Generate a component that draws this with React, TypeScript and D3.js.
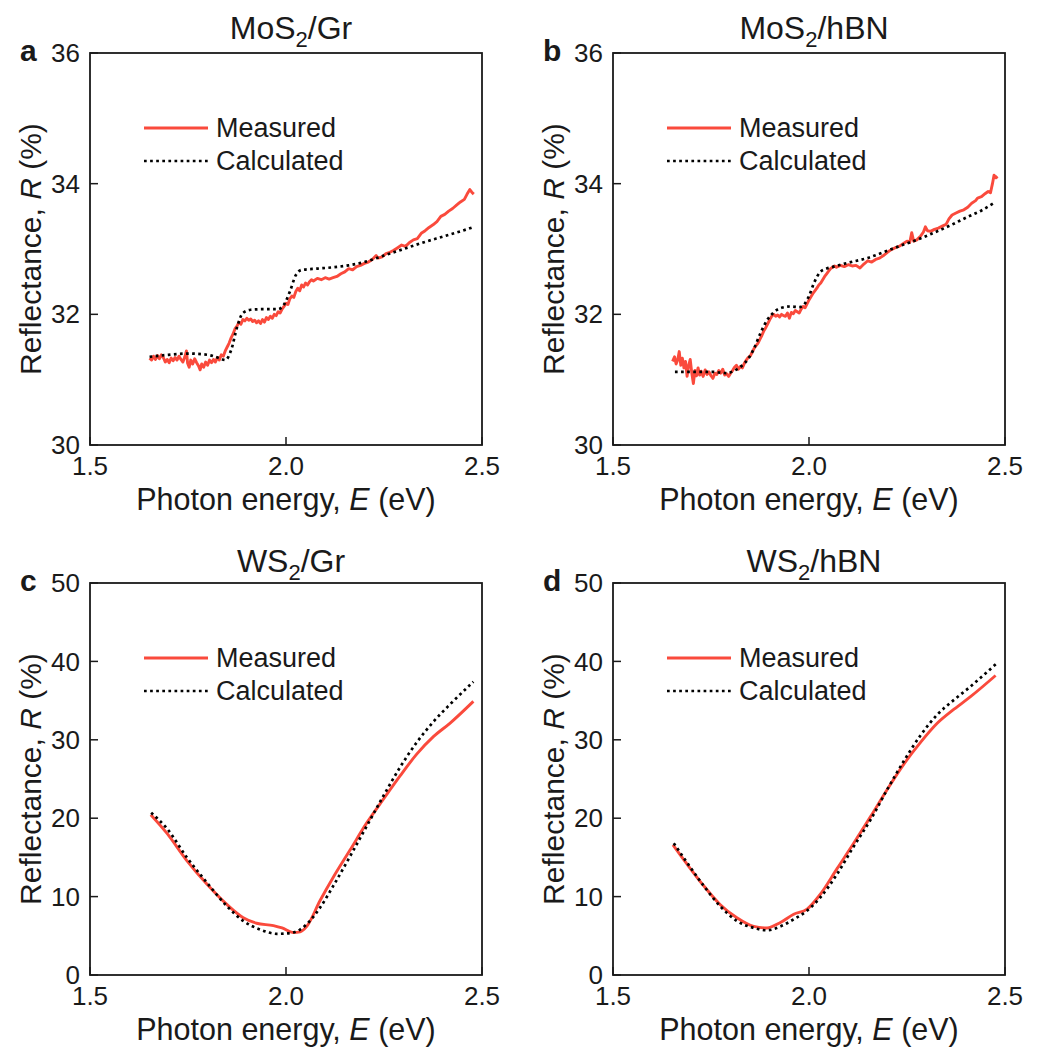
import React from "react";
import * as d3 from "d3";

// ---------- DATA ----------
const xTicks = [1.5, 2.0, 2.5];
const yTicksMoS2 = [30, 32, 34, 36];
const yTicksWS2 = [0, 10, 20, 30, 40, 50];

const panelLetters = ["a", "b", "c", "d"];
const panelMaterials = ["MoS", "MoS", "WS", "WS"];
const panelSubstrates = ["/Gr", "/hBN", "/Gr", "/hBN"];
const seriesNames = ["Measured", "Calculated"];

// Panel a: MoS2/Gr
const measuredA: [number, number][] = [
  [1.652, 31.33], [1.657, 31.3], [1.662, 31.36], [1.667, 31.31], [1.672, 31.37], [1.677, 31.32],
  [1.682, 31.38], [1.687, 31.34], [1.692, 31.27], [1.697, 31.31], [1.702, 31.26], [1.707, 31.33],
  [1.712, 31.29], [1.717, 31.34], [1.722, 31.3], [1.727, 31.36], [1.732, 31.31], [1.737, 31.27],
  [1.742, 31.35], [1.746, 31.44], [1.749, 31.25], [1.753, 31.19], [1.757, 31.3], [1.762, 31.24],
  [1.767, 31.32], [1.772, 31.26], [1.777, 31.21], [1.781, 31.15], [1.785, 31.24], [1.79, 31.19],
  [1.795, 31.27], [1.8, 31.22], [1.805, 31.3], [1.81, 31.26], [1.815, 31.31], [1.82, 31.27],
  [1.825, 31.34], [1.83, 31.3], [1.835, 31.38], [1.84, 31.36], [1.845, 31.44], [1.85, 31.5],
  [1.855, 31.56], [1.86, 31.64], [1.865, 31.7], [1.87, 31.78], [1.875, 31.82], [1.88, 31.88],
  [1.885, 31.85], [1.89, 31.92], [1.895, 31.9], [1.9, 31.94], [1.905, 31.91], [1.91, 31.93],
  [1.915, 31.89], [1.92, 31.91], [1.925, 31.87], [1.93, 31.9], [1.935, 31.86], [1.94, 31.92],
  [1.945, 31.88], [1.95, 31.95], [1.955, 31.92], [1.96, 31.97], [1.965, 31.94], [1.97, 32.0],
  [1.975, 31.98], [1.98, 32.04], [1.985, 32.02], [1.99, 32.08], [1.995, 32.12], [2.0, 32.17],
  [2.005, 32.15], [2.01, 32.24], [2.015, 32.28], [2.02, 32.26], [2.025, 32.35], [2.03, 32.4],
  [2.035, 32.36], [2.04, 32.45], [2.045, 32.42], [2.05, 32.48], [2.055, 32.45], [2.06, 32.5],
  [2.065, 32.53], [2.07, 32.51], [2.08, 32.55], [2.09, 32.53], [2.1, 32.56], [2.11, 32.54],
  [2.12, 32.56], [2.13, 32.58], [2.14, 32.62], [2.15, 32.65], [2.16, 32.7], [2.17, 32.68],
  [2.18, 32.73], [2.19, 32.75], [2.2, 32.78], [2.21, 32.8], [2.22, 32.84], [2.23, 32.9],
  [2.235, 32.86], [2.245, 32.88], [2.255, 32.93], [2.265, 32.95], [2.275, 32.98], [2.285, 33.02],
  [2.295, 33.06], [2.305, 33.04], [2.315, 33.1], [2.325, 33.14], [2.335, 33.16], [2.345, 33.24],
  [2.355, 33.28], [2.365, 33.33], [2.375, 33.37], [2.385, 33.42], [2.395, 33.5], [2.405, 33.53],
  [2.415, 33.58], [2.425, 33.62], [2.435, 33.67], [2.445, 33.72], [2.455, 33.76], [2.462, 33.84],
  [2.469, 33.91], [2.474, 33.87], [2.479, 33.84],
];
const calculatedA: [number, number][] = [
  [1.652, 31.35], [1.7, 31.38], [1.75, 31.4], [1.8, 31.38], [1.83, 31.33], [1.845, 31.3],
  [1.86, 31.45], [1.875, 31.8], [1.89, 32.02], [1.91, 32.07], [1.95, 32.08], [1.98, 32.08],
  [1.995, 32.15], [2.01, 32.35], [2.025, 32.6], [2.04, 32.68], [2.08, 32.7], [2.12, 32.72],
  [2.16, 32.75], [2.2, 32.8], [2.25, 32.9], [2.3, 33.0], [2.35, 33.1], [2.4, 33.19],
  [2.45, 33.28], [2.48, 33.34],
];

// Panel b: MoS2/hBN
const measuredB: [number, number][] = [
  [1.652, 31.28], [1.657, 31.35], [1.661, 31.24], [1.665, 31.3], [1.669, 31.43], [1.673, 31.22],
  [1.677, 31.33], [1.681, 31.18], [1.685, 31.28], [1.689, 31.05], [1.693, 31.22], [1.697, 31.31],
  [1.701, 31.1], [1.705, 30.94], [1.709, 31.14], [1.713, 31.06], [1.717, 31.18], [1.721, 31.07],
  [1.725, 31.13], [1.73, 31.05], [1.735, 31.15], [1.74, 31.08], [1.745, 31.12], [1.75, 31.06],
  [1.755, 31.02], [1.76, 31.1], [1.765, 31.08], [1.77, 31.14], [1.775, 31.1], [1.78, 31.16],
  [1.785, 31.07], [1.79, 31.09], [1.795, 31.05], [1.8, 31.1], [1.805, 31.14], [1.81, 31.19],
  [1.815, 31.22], [1.82, 31.16], [1.825, 31.2], [1.83, 31.18], [1.835, 31.25], [1.84, 31.3],
  [1.845, 31.34], [1.85, 31.36], [1.855, 31.42], [1.86, 31.48], [1.865, 31.52], [1.87, 31.56],
  [1.875, 31.62], [1.88, 31.68], [1.885, 31.75], [1.89, 31.8], [1.895, 31.86], [1.9, 31.92],
  [1.905, 31.97], [1.91, 32.0], [1.915, 31.97], [1.92, 31.99], [1.925, 31.96], [1.93, 32.0],
  [1.935, 31.98], [1.94, 31.97], [1.945, 32.02], [1.95, 31.94], [1.955, 32.03], [1.96, 32.01],
  [1.965, 32.06], [1.97, 32.04], [1.975, 32.02], [1.98, 32.08], [1.985, 32.12], [1.99, 32.1],
  [1.995, 32.16], [2.0, 32.22], [2.005, 32.27], [2.01, 32.32], [2.015, 32.36], [2.02, 32.4],
  [2.025, 32.45], [2.03, 32.48], [2.035, 32.53], [2.04, 32.58], [2.045, 32.62], [2.05, 32.66],
  [2.055, 32.7], [2.06, 32.72], [2.065, 32.74], [2.07, 32.72], [2.08, 32.75], [2.09, 32.73],
  [2.1, 32.76], [2.11, 32.74], [2.12, 32.75], [2.13, 32.71], [2.14, 32.77], [2.15, 32.82],
  [2.16, 32.8], [2.17, 32.84], [2.18, 32.86], [2.19, 32.9], [2.2, 32.95], [2.21, 32.99],
  [2.22, 33.02], [2.23, 33.04], [2.24, 33.08], [2.25, 33.12], [2.257, 33.1], [2.262, 33.25],
  [2.267, 33.12], [2.275, 33.14], [2.285, 33.2], [2.292, 33.26], [2.297, 33.34], [2.302, 33.28],
  [2.31, 33.27], [2.32, 33.3], [2.33, 33.32], [2.34, 33.35], [2.35, 33.38], [2.357, 33.46],
  [2.365, 33.52], [2.375, 33.55], [2.385, 33.58], [2.395, 33.6], [2.405, 33.64], [2.415, 33.7],
  [2.425, 33.74], [2.43, 33.78], [2.44, 33.8], [2.45, 33.85], [2.457, 33.88], [2.463, 33.86],
  [2.468, 34.0], [2.472, 34.13], [2.477, 34.09], [2.481, 34.11],
];
const calculatedB: [number, number][] = [
  [1.658, 31.12], [1.7, 31.12], [1.75, 31.12], [1.79, 31.1], [1.81, 31.14], [1.83, 31.22],
  [1.845, 31.32], [1.86, 31.48], [1.876, 31.71], [1.893, 31.91], [1.91, 32.03], [1.93, 32.1],
  [1.952, 32.12], [1.975, 32.11], [1.99, 32.17], [2.0, 32.28], [2.012, 32.47], [2.029, 32.65],
  [2.045, 32.7], [2.063, 32.73], [2.1, 32.79], [2.148, 32.86], [2.19, 32.95], [2.233, 33.05],
  [2.28, 33.15], [2.319, 33.25], [2.36, 33.36], [2.404, 33.49], [2.44, 33.59], [2.476, 33.72],
];

// Panel c: WS2/Gr
const measuredC: [number, number][] = [
  [1.655, 20.45], [1.696, 18.1], [1.747, 14.6], [1.798, 11.6], [1.849, 9.0], [1.891, 7.3],
  [1.925, 6.6], [1.968, 6.3], [1.99, 6.0], [2.019, 5.4], [2.036, 5.5], [2.053, 6.2],
  [2.087, 9.5], [2.121, 12.5], [2.163, 15.9], [2.206, 19.4], [2.248, 22.4], [2.291, 25.4],
  [2.334, 28.2], [2.376, 30.4], [2.418, 32.1], [2.478, 34.9],
];
const calculatedC: [number, number][] = [
  [1.656, 20.7], [1.696, 18.7], [1.747, 15.0], [1.798, 11.8], [1.849, 8.8], [1.891, 6.9],
  [1.934, 5.8], [1.977, 5.25], [2.011, 5.35], [2.036, 5.8], [2.061, 6.9], [2.087, 8.6],
  [2.121, 11.4], [2.163, 15.1], [2.206, 19.0], [2.248, 22.8], [2.291, 26.5], [2.334, 29.7],
  [2.376, 32.3], [2.418, 34.5], [2.478, 37.4],
];

// Panel d: WS2/hBN
const measuredD: [number, number][] = [
  [1.653, 16.6], [1.688, 14.2], [1.731, 11.4], [1.773, 9.0], [1.816, 7.3], [1.859, 6.2],
  [1.893, 6.0], [1.927, 6.7], [1.961, 7.75], [1.995, 8.4], [2.029, 10.3], [2.072, 13.6],
  [2.114, 16.8], [2.157, 20.2], [2.2, 23.7], [2.242, 26.9], [2.285, 29.7], [2.327, 32.1],
  [2.37, 33.9], [2.412, 35.5], [2.476, 38.2],
];
const calculatedD: [number, number][] = [
  [1.655, 16.8], [1.688, 14.4], [1.731, 11.4], [1.773, 8.8], [1.816, 6.9], [1.859, 6.0],
  [1.893, 5.7], [1.927, 6.2], [1.961, 7.1], [1.995, 8.2], [2.029, 9.9], [2.072, 12.9],
  [2.114, 16.4], [2.157, 19.8], [2.2, 23.7], [2.242, 27.3], [2.285, 30.6], [2.327, 33.2],
  [2.37, 35.1], [2.412, 36.8], [2.48, 39.8],
];

// ---------- STYLE ----------
const FONT = "'Liberation Sans', Arial, Helvetica, sans-serif";
const RED = "#fa4a3c";
const INK = "#1a1a1a";
const W = 392;
const H = 392;
const lefts = [90, 613, 90, 613];
const tops = [53, 53, 583, 583];
const titleGap = [14.5, 14.5, 11.5, 11.5];

type PanelProps = {
  idx: number;
  yDomain: [number, number];
  yTicks: number[];
  measured: [number, number][];
  calculated: [number, number][];
};

function Panel({ idx, yDomain, yTicks, measured, calculated }: PanelProps) {
  const left = lefts[idx];
  const top = tops[idx];
  const x = d3.scaleLinear().domain([1.5, 2.5]).range([0, W]);
  const y = d3.scaleLinear().domain(yDomain).range([H, 0]);
  const line = d3
    .line<[number, number]>()
    .x((d) => x(d[0]))
    .y((d) => y(d[1]))
    .curve(d3.curveMonotoneX);
  const lineLinear = d3
    .line<[number, number]>()
    .x((d) => x(d[0]))
    .y((d) => y(d[1]));
  const noisy = measured.length > 40;
  return (
    <g transform={`translate(${left},${top})`}>
      {/* title */}
      <text
        x={W / 2 + 5}
        y={-titleGap[idx]}
        textAnchor="middle"
        fontSize={32}
        fill={INK}
        fontFamily={FONT}
      >
        {panelMaterials[idx]}
        <tspan dy={8} fontSize={22}>2</tspan>
        <tspan dy={-8}>{panelSubstrates[idx]}</tspan>
      </text>
      {/* panel letter */}
      <text x={-70} y={8} fontSize={30} fontWeight="bold" fill={INK} fontFamily={FONT}>
        {panelLetters[idx]}
      </text>
      {/* data */}
      <path
        d={(noisy ? lineLinear : line)(measured) || ""}
        fill="none"
        stroke={RED}
        strokeWidth={2.9}
        strokeLinejoin="round"
      />
      <path
        d={line(calculated) || ""}
        fill="none"
        stroke="#000"
        strokeWidth={2.7}
        strokeDasharray="2.7 3.4"
      />
      {/* box */}
      <rect x={0} y={0} width={W} height={H} fill="none" stroke={INK} strokeWidth={1.8} />
      {/* x ticks */}
      {xTicks.map((t) => (
        <g key={"x" + t}>
          <line x1={x(t)} x2={x(t)} y1={H} y2={H - 8} stroke={INK} strokeWidth={1.5} />
          <text
            x={x(t)}
            y={H + 30}
            textAnchor="middle"
            fontSize={26}
            fill={INK}
            fontFamily={FONT}
          >
            {d3.format(".1f")(t)}
          </text>
        </g>
      ))}
      {/* y ticks */}
      {yTicks.map((t) => (
        <g key={"y" + t}>
          <line x1={0} x2={8} y1={y(t)} y2={y(t)} stroke={INK} strokeWidth={1.5} />
          <text
            x={-10}
            y={y(t)}
            dy="0.35em"
            textAnchor="end"
            fontSize={26}
            fill={INK}
            fontFamily={FONT}
          >
            {t}
          </text>
        </g>
      ))}
      {/* axis labels */}
      <text
        x={W / 2}
        y={H + 65}
        textAnchor="middle"
        fontSize={30.5}
        fill={INK}
        fontFamily={FONT}
      >
        Photon energy, <tspan fontStyle="italic">E</tspan> (eV)
      </text>
      <text
        transform={`translate(-49,${H / 2}) rotate(-90)`}
        textAnchor="middle"
        fontSize={30}
        fill={INK}
        fontFamily={FONT}
      >
        Reflectance, <tspan fontStyle="italic">R</tspan> (%)
      </text>
      {/* legend */}
      <line x1={54} x2={118} y1={75} y2={75} stroke={RED} strokeWidth={2.9} />
      <text x={126} y={75} dy="0.35em" fontSize={27} fill={INK} fontFamily={FONT}>
        {seriesNames[0]}
      </text>
      <line
        x1={54}
        x2={118}
        y1={108}
        y2={108}
        stroke="#000"
        strokeWidth={2.7}
        strokeDasharray="2.7 3.4"
      />
      <text x={126} y={108} dy="0.35em" fontSize={27} fill={INK} fontFamily={FONT}>
        {seriesNames[1]}
      </text>
    </g>
  );
}

export default function App() {
  return (
    <svg
      width={1041}
      height={1050}
      style={{ position: "absolute", left: 0, top: 0, background: "#fff" }}
    >
      <rect width={1041} height={1050} fill="#fff" />
      <Panel idx={0} yDomain={[30, 36]} yTicks={yTicksMoS2} measured={measuredA} calculated={calculatedA} />
      <Panel idx={1} yDomain={[30, 36]} yTicks={yTicksMoS2} measured={measuredB} calculated={calculatedB} />
      <Panel idx={2} yDomain={[0, 50]} yTicks={yTicksWS2} measured={measuredC} calculated={calculatedC} />
      <Panel idx={3} yDomain={[0, 50]} yTicks={yTicksWS2} measured={measuredD} calculated={calculatedD} />
    </svg>
  );
}
